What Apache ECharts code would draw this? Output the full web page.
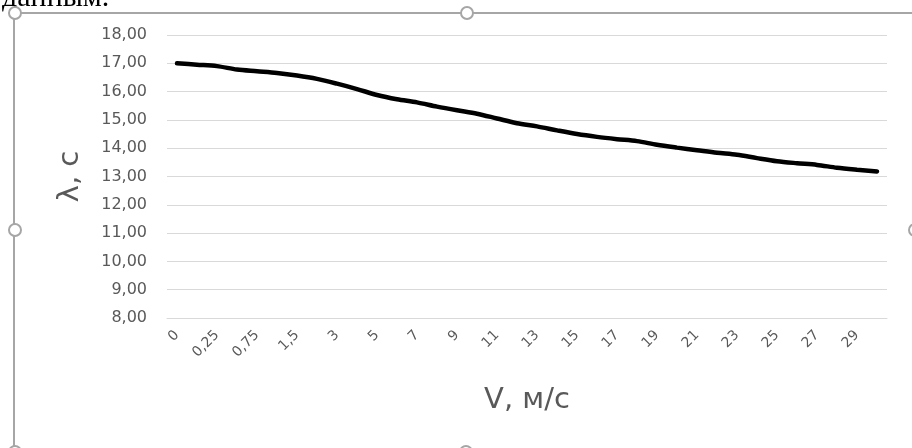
<!DOCTYPE html>
<html>
<head>
<meta charset="utf-8">
<script src="https://cdn.jsdelivr.net/npm/echarts@6/dist/echarts.min.js"></script>
<style>
  html, body { margin: 0; padding: 0; background: #fff; }
  #chart { width: 912px; height: 448px; }
</style>
</head>
<body>
<div id="chart"></div>
<script>
// Wind speed V, m/s (category axis)
const speeds = ['0', '0,1', '0,25', '0,5', '0,75', '1', '1,5', '2',
  '3', '4', '5', '6', '7', '8', '9', '10', '11', '12', '13', '14', '15', '16',
  '17', '18', '19', '20', '21', '22', '23', '24', '25', '26', '27', '28', '29', '30'];

// λ, s for each speed
const lambdaValues = [17.00, 16.95, 16.90, 16.78, 16.72, 16.66, 16.57, 16.45,
  16.28, 16.09, 15.88, 15.73, 15.62, 15.47, 15.34, 15.22, 15.05, 14.88,
  14.77, 14.63, 14.50, 14.40, 14.32, 14.25, 14.12, 14.02, 13.93, 13.84,
  13.77, 13.65, 13.54, 13.47, 13.41, 13.31, 13.24, 13.18];

const yMin = 8, yMax = 18, yStep = 1;

const labelColor = '#595959';
const gridColor = '#d9d9d9';
const frameColor = '#a6a6a6';
const font = 'DejaVu Sans';

const chart = echarts.init(document.getElementById('chart'), null, { renderer: 'canvas' });

function handle(x, y) {
  return {
    type: 'circle', shape: { cx: x, cy: y, r: 6 },
    style: { fill: '#fff', stroke: frameColor, lineWidth: 2 }, z: 20
  };
}

chart.setOption({
  backgroundColor: '#fff',
  animation: false,
  grid: { left: 167, right: 25, top: 35, bottom: 130 },
  xAxis: {
    type: 'category',
    data: speeds,
    boundaryGap: true,
    axisLine: { show: true, lineStyle: { color: gridColor, width: 1 } },
    axisTick: { show: false },
    axisLabel: {
      interval: 1, rotate: 45, color: labelColor,
      fontFamily: font, fontSize: 14, margin: 15
    },
    name: 'V, м/с',
    nameLocation: 'middle',
    nameGap: 68,
    nameTextStyle: { color: labelColor, fontFamily: font, fontSize: 29 }
  },
  yAxis: {
    type: 'value',
    min: yMin, max: yMax, interval: yStep,
    axisLine: { show: false },
    axisTick: { show: false },
    splitLine: { lineStyle: { color: gridColor, width: 1 } },
    axisLabel: {
      color: labelColor, fontFamily: font, fontSize: 16, margin: 20,
      formatter: v => v.toFixed(2).replace('.', ',')
    },
    name: 'λ, с',
    nameLocation: 'middle',
    nameGap: 82,
    nameRotate: 90,
    nameTextStyle: { color: labelColor, fontFamily: font, fontSize: 29 }
  },
  series: [{
    type: 'line',
    data: lambdaValues,
    smooth: 0.3,
    symbol: 'none',
    lineStyle: { color: '#000', width: 4.5, cap: 'round' }
  }],
  graphic: [
    {
      type: 'text', x: 2, y: 13,
      style: {
        text: 'данным.', fill: '#000', verticalAlign: 'bottom',
        font: '30px "Liberation Serif"'
      }
    },
    { type: 'line', shape: { x1: 15, y1: 13, x2: 912, y2: 13 },
      style: { stroke: frameColor, lineWidth: 2 }, z: 19 },
    { type: 'line', shape: { x1: 14, y1: 13, x2: 14, y2: 448 },
      style: { stroke: frameColor, lineWidth: 2 }, z: 19 },
    handle(15, 13),
    handle(467, 13),
    handle(15, 230),
    handle(915, 230),
    handle(466, 452),
    handle(15, 452)
  ]
});
</script>
</body>
</html>
